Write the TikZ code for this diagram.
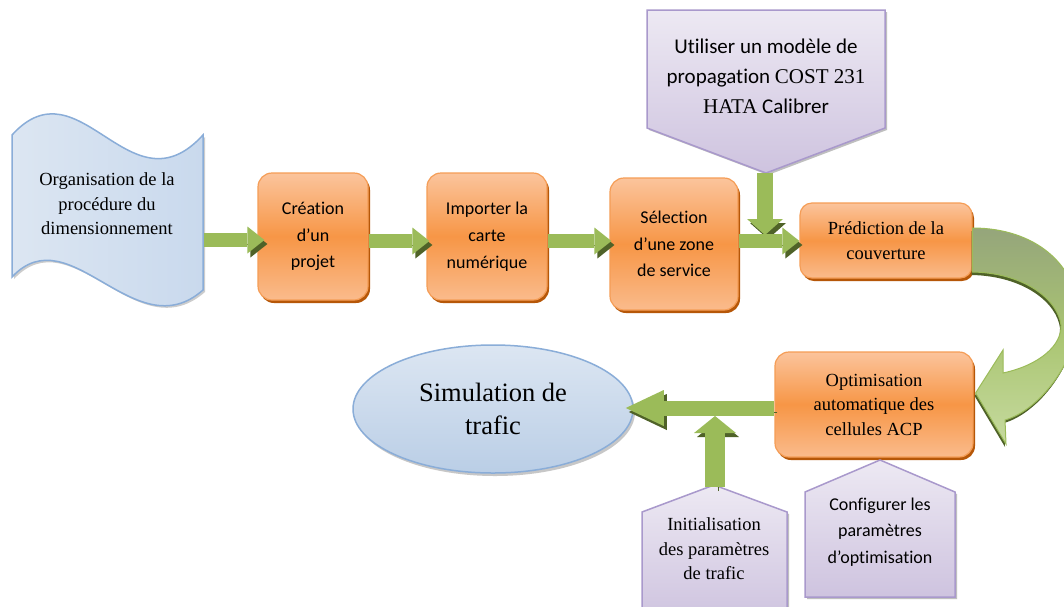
\documentclass[tikz,border=0pt]{standalone}
\usepackage{fontspec}
\setmainfont{Liberation Serif}
\newfontfamily\calib[Ligatures=NoCommon]{Carlito}
\usetikzlibrary{arrows.meta,shapes.geometric,shadows}

\definecolor{oTop}{HTML}{FBC49C}
\definecolor{oMid}{HTML}{F79646}
\definecolor{oBot}{HTML}{FABB8C}
\definecolor{oEdge}{HTML}{F59D56}
\definecolor{oShadow}{HTML}{B65708}
\definecolor{gMain}{HTML}{9BBB59}
\definecolor{gShadow}{HTML}{4F6228}
\definecolor{gTop}{HTML}{95A57B}
\definecolor{gBot}{HTML}{C6DA9F}
\definecolor{bLight}{HTML}{DCE6F2}
\definecolor{bMid}{HTML}{C9D9ED}
\definecolor{bDark}{HTML}{BACEE6}
\definecolor{bEdge}{HTML}{8AADD8}
\definecolor{pTop}{HTML}{EDE9F3}
\definecolor{pBot}{HTML}{CEC3DF}
\definecolor{pEdge}{HTML}{A999CC}

\tikzset{
  stage/.style={rounded corners=14pt, draw=oEdge, line width=1.2pt,
    top color=oTop, bottom color=oBot, middle color=oMid,
    align=center, inner sep=0pt,
    general shadow={fill=oShadow, shadow xshift=2pt, shadow yshift=-3pt}},
  calfont/.style={font=\calib\fontsize{18}{26.7}\selectfont},
  romfont/.style={font=\fontsize{18.5}{24.5}\selectfont},
  note/.style={draw=pEdge, line width=1.5pt, top color=pTop, bottom color=pBot,
    general shadow={fill=black!25, shadow xshift=2pt, shadow yshift=-2pt}},
  flow/.style={draw=gMain, line width=14pt,
    -{Triangle[width=27pt,length=17pt,line width=0pt]},
    preaction={draw=gShadow, transform canvas={shift={(3pt,-4pt)}}}},
}

\begin{document}
\begin{tikzpicture}[x=1pt,y=-1pt]
\useasboundingbox (0,0) rectangle (1064,606);
\fill[white] (0,0) rectangle (1064,606);

% starting document (punched-tape outline)
\path[draw=bEdge, line width=1.5pt, left color=bLight, right color=bMid,
  general shadow={fill=black!20, shadow xshift=2pt, shadow yshift=-2pt}]
  (12,135) .. controls (80,60) and (130,215) .. (203,135)
  -- (203,290) .. controls (135,350) and (70,215) .. (12,277) -- cycle;
\node[romfont, align=center] (org) at (107,204)
  {Organisation de la\\procédure du\\dimensionnement};
\coordinate (orgE) at (204,240);

% processing stages
\node[stage, calfont, minimum width=110pt, minimum height=127pt] (c1) at (313,236.5)
  {Création\\d’un\\projet};
\node[stage, calfont, minimum width=120pt, minimum height=127pt] (c2) at (487,236.5)
  {Importer la\\carte\\numérique};
\node[stage, calfont, minimum width=128pt, minimum height=132pt] (c3) at (674,244)
  {Sélection\\d’une zone\\de service};
\node[stage, romfont, rounded corners=12pt, minimum width=172pt, minimum height=75pt] (c4) at (886,240.5)
  {Prédiction de la\\couverture};
\node[stage, romfont, minimum width=198pt, minimum height=105pt] (c5) at (874,404.5)
  {Optimisation\\automatique des\\cellules ACP};

% final result
\node[ellipse, draw=bEdge, line width=1.5pt, top color=bLight, bottom color=bDark,
  minimum width=280pt, minimum height=128pt, align=center,
  font=\fontsize{26.5}{33}\selectfont,
  general shadow={fill=black!22, shadow xshift=2pt, shadow yshift=-3pt}] (sim) at (493,409)
  {Simulation de\\trafic};

% propagation model callout (points down)
\path[note] (647,10) -- (885,10) -- (885,128) -- (766,173) -- (647,128) -- cycle;
\node[align=center, font=\calib\fontsize{21}{30}\selectfont] (model) at (766,76)
  {Utiliser un modèle de\\propagation {\rmfamily COST 231}\\{\rmfamily HATA} Calibrer};
\coordinate (modelTip) at (765,173);

% traffic parameters (points up)
\path[note] (642,512) -- (714,485) -- (787,512) -- (787,620) -- (642,620) -- cycle;
\node[romfont, align=center] (init) at (714,549)
  {Initialisation\\des paramètres\\de trafic};
\coordinate (initTip) at (715,487);

% optimisation parameters (points up)
\path[note] (805,492) -- (880,460) -- (955,492) -- (955,597) -- (805,597) -- cycle;
\node[calfont, align=center] (conf) at (880,532)
  {Configurer les\\paramètres\\d’optimisation};

% straight connectors
\draw[flow] (orgE) -- ([xshift=7pt]c1.west |- orgE);
\draw[flow] (c1.east |- 0,241) -- ([xshift=3pt]c2.west |- 0,241);
\draw[flow] (c2.east |- 0,241) -- ([xshift=2pt]c3.west |- 0,241);
\draw[flow, line width=16pt, -{Triangle[width=36pt,length=16pt,line width=0pt]}]
  (modelTip) -- (modelTip |- 0,235);
\draw[flow] (c3.east |- 0,241) -- (c4.west |- 0,241);
\draw[flow, line width=15pt, -{Triangle[width=36pt,length=38pt,line width=0pt]}]
  (c5.west |- 0,408) -- ([xshift=-8pt]sim.east |- 0,408);
\draw[flow, line width=20pt, -{Triangle[width=42pt,length=17pt,line width=0pt]}]
  (initTip) -- (initTip |- 0,416);

% curved connector from coverage prediction to optimisation
\path[draw=gMain, line width=1pt, top color=gTop, bottom color=gBot, middle color=gMain!85!white,
  general shadow={fill=gShadow, shadow xshift=-1pt, shadow yshift=-3pt}]
  (c4.east |- 0,228) .. controls (1035,228) and (1078,265) .. (1078,315)
  .. controls (1078,360) and (1040,410) .. (1005,420)
  -- (1006,444) -- ([xshift=2pt]c5.east |- 0,393) -- (1003,350) -- (1003,373)
  .. controls (1040,365) and (1062,345) .. (1061,325)
  .. controls (1058,300) and (1025,273) .. (c4.east |- 0,272) -- cycle;
\end{tikzpicture}
\end{document}
